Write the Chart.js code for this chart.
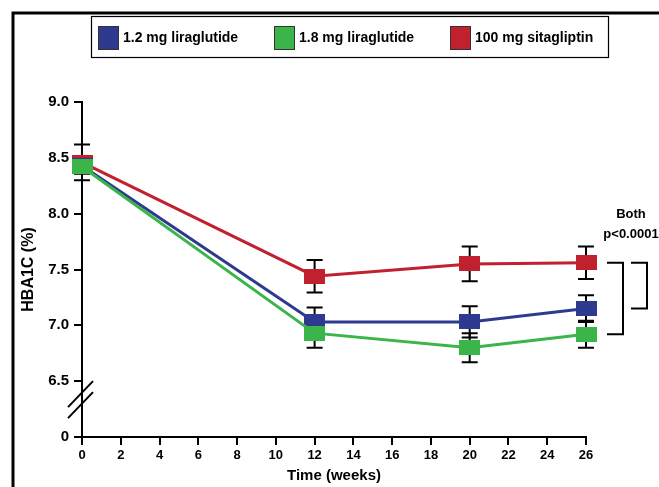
<!DOCTYPE html>
<html>
<head>
<meta charset="utf-8">
<script src="https://cdn.jsdelivr.net/npm/chart.js@4.4.1/dist/chart.umd.min.js"></script>
<style>
  html, body { margin: 0; padding: 0; background: #fff; }
  canvas { display: block; }
</style>
</head>
<body>
<canvas id="myChart" width="659" height="487"></canvas>
<script>
// values
const weeks = [0, 12, 20, 26];
const lira12 = [8.43, 7.03, 7.03, 7.15];
const lira12Err = [0.07, 0.13, 0.14, 0.12];
const lira18 = [8.42, 6.93, 6.80, 6.92];
const lira18Err = [0.06, 0.13, 0.13, 0.12];
const sita = [8.46, 7.44, 7.55, 7.56];
const sitaErr = [0.16, 0.145, 0.155, 0.145];
const yTicks = [6.0, 6.5, 7.0, 7.5, 8.0, 8.5, 9.0];
const yTickLabels = ["0", "6.5", "7.0", "7.5", "8.0", "8.5", "9.0"];
const seriesLabels = ["1.2 mg liraglutide", "1.8 mg liraglutide", "100 mg sitagliptin"];
const pValueText = ["Both", "p<0.0001"];

const FONT = "Arial, 'Liberation Sans', sans-serif";
const BLUE = "#2e3a8f";
const GREEN = "#3bb54a";
const RED = "#c1202f";

function squareMarker(color) {
  const c = document.createElement("canvas");
  c.width = 21;
  c.height = 15;
  const g = c.getContext("2d");
  g.fillStyle = color;
  g.fillRect(0, 0, 21, 15);
  return c;
}

function series(label, values, errors, color, order) {
  return {
    label: label,
    data: weeks.map((w, i) => ({ x: w, y: values[i] })),
    errors: errors,
    borderColor: color,
    backgroundColor: color,
    borderWidth: 3,
    pointStyle: squareMarker(color),
    pointRadius: 8,
    tension: 0,
    clip: false,
    order: order,
  };
}

// error bars under the markers
const errorBars = {
  id: "errorBars",
  beforeDatasetsDraw(chart) {
    const ctx = chart.ctx;
    const y = chart.scales.y;
    ctx.save();
    ctx.strokeStyle = "#000";
    ctx.lineWidth = 2;
    chart.data.datasets.forEach((ds, di) => {
      const meta = chart.getDatasetMeta(di);
      meta.data.forEach((pt, i) => {
        const v = ds.data[i].y;
        const e = ds.errors[i];
        const top = y.getPixelForValue(v + e);
        const bot = y.getPixelForValue(v - e);
        ctx.beginPath();
        ctx.moveTo(pt.x, top);
        ctx.lineTo(pt.x, bot);
        ctx.moveTo(pt.x - 8, top);
        ctx.lineTo(pt.x + 8, top);
        ctx.moveTo(pt.x - 8, bot);
        ctx.lineTo(pt.x + 8, bot);
        ctx.stroke();
      });
    });
    ctx.restore();
  },
};

// frame, legend box, axis break, significance brackets
const decor = {
  id: "decor",
  afterDraw(chart) {
    const ctx = chart.ctx;
    const xs = chart.scales.x;
    const ys = chart.scales.y;
    ctx.save();

    // outer frame (left and top edges visible)
    ctx.strokeStyle = "#000";
    ctx.lineWidth = 3;
    ctx.beginPath();
    ctx.moveTo(13, 487);
    ctx.lineTo(13, 13);
    ctx.lineTo(659, 13);
    ctx.stroke();

    // legend
    ctx.lineWidth = 1.2;
    ctx.strokeRect(91.5, 16.5, 517, 41);
    ctx.font = "bold 14px " + FONT;
    ctx.textBaseline = "middle";
    ctx.textAlign = "left";
    chart.data.datasets.forEach((ds, i) => {
      const lx = 98 + i * 176;
      ctx.fillStyle = ds.backgroundColor;
      ctx.fillRect(lx, 26, 21, 24);
      ctx.lineWidth = 1;
      ctx.strokeStyle = "#333";
      ctx.strokeRect(lx + 0.5, 26.5, 20, 23);
      ctx.fillStyle = "#000";
      ctx.fillText(ds.label, lx + 25, 38);
    });

    // axis break
    const bx = xs.getPixelForValue(0);
    const by = ys.getPixelForValue(6.33);
    ctx.strokeStyle = "#000";
    ctx.lineWidth = 2;
    ctx.beginPath();
    [-6, 5].forEach((d) => {
      ctx.moveTo(bx - 14, by + d + 13);
      ctx.lineTo(bx + 11, by + d - 13);
    });
    ctx.stroke();

    // brackets at week 26
    const last = weeks.length - 1;
    const xe = xs.getPixelForValue(weeks[last]);
    const yR = ys.getPixelForValue(sita[last]);
    const yB = ys.getPixelForValue(lira12[last]);
    const yG = ys.getPixelForValue(lira18[last]);
    ctx.beginPath();
    ctx.moveTo(xe + 21, yR);
    ctx.lineTo(xe + 37, yR);
    ctx.lineTo(xe + 37, yG);
    ctx.lineTo(xe + 21, yG);
    ctx.moveTo(xe + 45, yR);
    ctx.lineTo(xe + 61, yR);
    ctx.lineTo(xe + 61, yB);
    ctx.lineTo(xe + 45, yB);
    ctx.stroke();

    ctx.fillStyle = "#000";
    ctx.font = "bold 13px " + FONT;
    ctx.textAlign = "center";
    ctx.fillText(pValueText[0], xe + 45, yR - 48);
    ctx.fillText(pValueText[1], xe + 45, yR - 28);
    ctx.restore();
  },
};

const axisLine = {
  display: true,
  drawOnChartArea: false,
  drawTicks: true,
  tickLength: 8,
  color: "#000",
  lineWidth: 2,
};

const config = {
  type: "line",
  data: {
    datasets: [
      series(seriesLabels[0], lira12, lira12Err, BLUE, 1),
      series(seriesLabels[1], lira18, lira18Err, GREEN, 0),
      series(seriesLabels[2], sita, sitaErr, RED, 2),
    ],
  },
  options: {
    responsive: false,
    animation: false,
    devicePixelRatio: 1,
    layout: {
      padding: { left: 14, right: 73, top: 102, bottom: 0 },
    },
    plugins: {
      legend: { display: false },
      tooltip: { enabled: false },
    },
    scales: {
      x: {
        type: "linear",
        min: 0,
        max: 26,
        grid: axisLine,
        border: { display: true, color: "#000", width: 2 },
        ticks: {
          stepSize: 2,
          color: "#000",
          padding: 3,
          font: { family: FONT, size: 13, weight: "bold" },
        },
        title: {
          display: true,
          text: "Time (weeks)",
          color: "#000",
          padding: { top: 0, bottom: 2 },
          font: { family: FONT, size: 15, weight: "bold" },
        },
        afterFit(scale) {
          scale.height = 50;
        },
      },
      y: {
        type: "linear",
        min: 6,
        max: 9,
        grid: axisLine,
        border: { display: true, color: "#000", width: 2 },
        afterBuildTicks(scale) {
          scale.ticks = yTicks.map((v) => ({ value: v }));
        },
        ticks: {
          color: "#000",
          padding: 5,
          font: { family: FONT, size: 15, weight: "bold" },
          callback: (v) => yTickLabels[yTicks.indexOf(v)],
        },
        title: {
          display: true,
          text: "HBA1C (%)",
          color: "#000",
          padding: { top: 5, bottom: 0 },
          font: { family: FONT, size: 16, weight: "bold" },
        },
        afterFit(scale) {
          scale.width = 68;
        },
      },
    },
  },
  plugins: [errorBars, decor],
};

new Chart(document.getElementById("myChart").getContext("2d"), config);
</script>
</body>
</html>
